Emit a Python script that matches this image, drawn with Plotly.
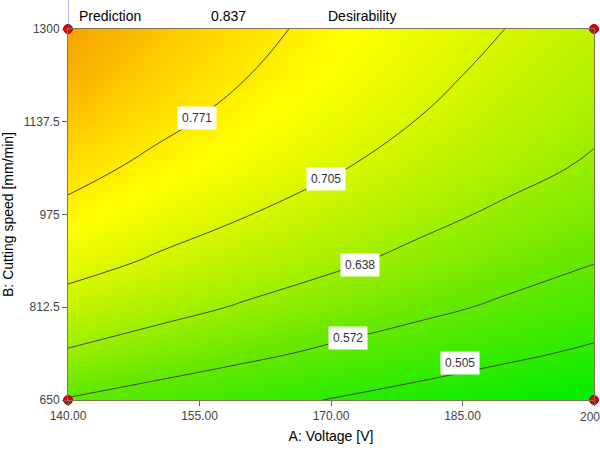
import plotly.graph_objects as go

# A: Voltage [V]
voltage = [140, 150, 160, 170, 180, 190, 200]
# B: Cutting speed [mm/min]
speed = [650, 731.25, 812.5, 893.75, 975, 1056.25, 1137.5, 1218.75, 1300]
# Desirability read at grid points (rows = speed, cols = voltage)
d_650 = [0.568, 0.546, 0.525, 0.503, 0.483, 0.464, 0.447]
d_731 = [0.632, 0.607, 0.584, 0.561, 0.538, 0.516, 0.495]
d_812 = [0.683, 0.658, 0.633, 0.609, 0.586, 0.562, 0.538]
d_894 = [0.726, 0.699, 0.673, 0.649, 0.623, 0.598, 0.574]
d_975 = [0.760, 0.732, 0.707, 0.681, 0.654, 0.628, 0.604]
d_1056 = [0.786, 0.760, 0.735, 0.710, 0.681, 0.656, 0.630]
d_1137 = [0.808, 0.782, 0.756, 0.730, 0.703, 0.675, 0.649]
d_1219 = [0.826, 0.799, 0.773, 0.747, 0.719, 0.690, 0.664]
d_1300 = [0.837, 0.811, 0.785, 0.758, 0.731, 0.704, 0.677]
desirability = [d_650, d_731, d_812, d_894, d_975, d_1056, d_1137, d_1219, d_1300]

# contour levels and label placement
levels = [0.505, 0.572, 0.638, 0.705, 0.771]
label_text = ["0.505", "0.572", "0.638", "0.705", "0.771"]
label_x = [184.7, 171.9, 173.3, 169.4, 154.7]
label_y = [715, 759, 887, 1037, 1144]

# design points (corners)
pts_x = [140, 140, 200, 200]
pts_y = [650, 1300, 650, 1300]

xticks = [140, 155, 170, 185, 200]
xticktext = ["140.00", "155.00", "170.00", "185.00", ""]
yticks = [650, 812.5, 975, 1137.5, 1300]
yticktext = ["650", "812.5", "975", "1137.5", "1300"]

colorscale = [
    [0.0, "rgb(0,238,0)"],
    [0.35, "rgb(105,232,0)"],
    [0.63, "rgb(205,245,0)"],
    [0.78, "rgb(255,255,0)"],
    [0.90, "rgb(255,210,0)"],
    [1.0, "rgb(245,162,0)"],
]

FONT = "Liberation Sans, Arial"

fig = go.Figure()
fig.add_trace(go.Contour(
    x=voltage, y=speed, z=desirability,
    colorscale=colorscale, zmin=0.447, zmax=0.837,
    showscale=False,
    contours=dict(start=levels[0], end=levels[-1] + 0.001,
                  size=(levels[-1] - levels[0]) / 4,
                  coloring="heatmap", showlabels=False),
    line=dict(color="rgb(70,70,60)", width=1, smoothing=1.3),
    hoverinfo="skip",
))

fig.add_trace(go.Scatter(
    x=pts_x, y=pts_y, mode="markers",
    marker=dict(color="rgb(225,0,0)", size=9, line=dict(color="rgb(170,0,0)", width=1)),
    cliponaxis=False, hoverinfo="skip",
))

for t, lx, ly in zip(label_text, label_x, label_y):
    fig.add_annotation(x=lx, y=ly, text=t, showarrow=False,
                       bgcolor="white", borderpad=4,
                       font=dict(family=FONT, size=12, color="#333"))

# last x tick label, kept inside the window edge as the visible part in the reference
fig.add_annotation(x=200, xref="x", y=0, yref="paper", yanchor="top", yshift=-8,
                   xanchor="left", xshift=-16,
                   text="200", showarrow=False,
                   font=dict(family=FONT, size=12, color="#444"))

# top prediction flag
fig.add_shape(type="line", xref="x", yref="paper", x0=140, x1=140, y0=1, y1=1.08,
              line=dict(color="rgb(110,120,200)", width=1))
for txt, px in [("Prediction", 0.017), ("0.837", 0.269), ("Desirability", 0.491)]:
    fig.add_annotation(xref="paper", yref="paper", x=px, y=1.0, yanchor="bottom",
                       xanchor="left", text=txt, showarrow=False, yshift=3,
                       font=dict(family=FONT, size=14, color="black"))

axis_common = dict(showgrid=False, zeroline=False, ticks="outside", ticklen=5,
                   tickcolor="rgb(100,100,100)", showline=True, linecolor="rgb(130,120,80)",
                   linewidth=1, mirror=True, automargin=False,
                   tickfont=dict(family=FONT, size=12, color="#444"))

fig.update_layout(
    width=600, height=450,
    margin=dict(l=68, r=6, t=29, b=50),
    paper_bgcolor="white", plot_bgcolor="white",
    showlegend=False,
    xaxis=dict(range=[140, 200], tickvals=xticks, ticktext=xticktext,
               title=dict(text="A: Voltage [V]", standoff=8,
                          font=dict(family=FONT, size=14, color="black")),
               **axis_common),
    yaxis=dict(range=[650, 1300], tickvals=yticks, ticktext=yticktext,
               title=dict(text="B: Cutting speed [mm/min]", standoff=10,
                          font=dict(family=FONT, size=14, color="black")),
               **axis_common),
)

fig.write_html("out.html")
